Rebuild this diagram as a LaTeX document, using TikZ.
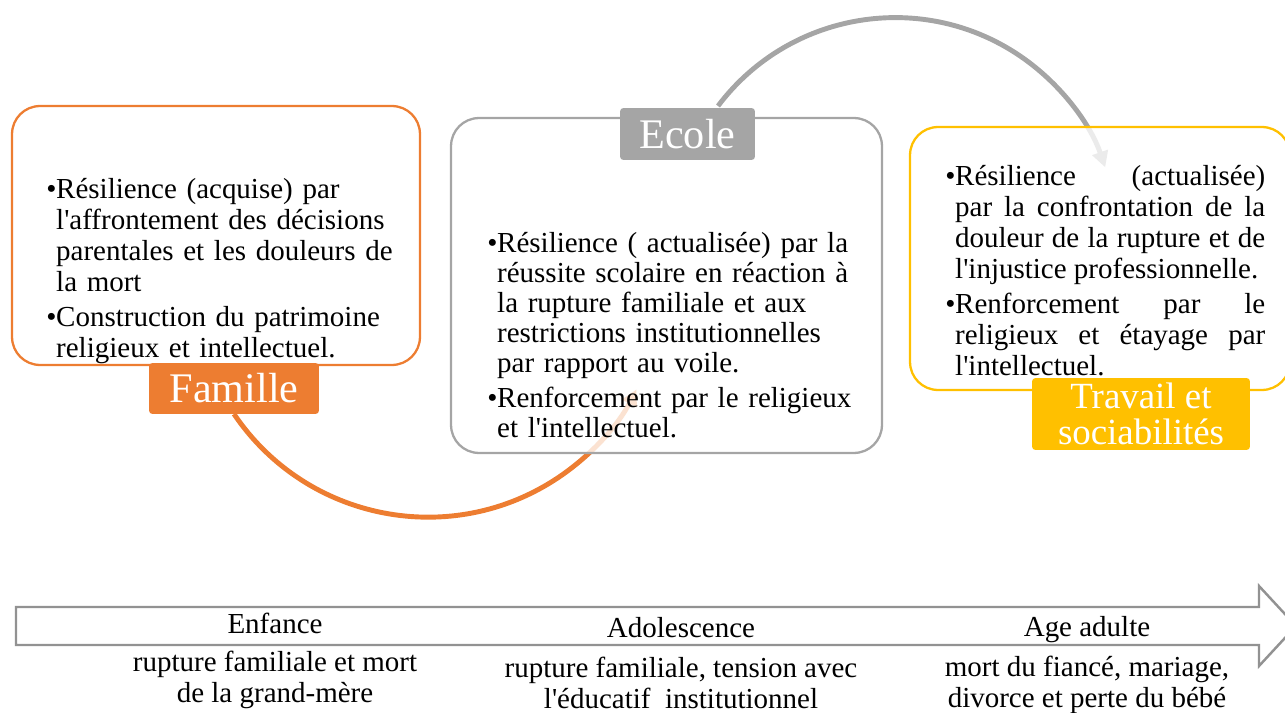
\documentclass[tikz,border=0pt]{standalone}
\usepackage{fontspec}
\setmainfont{Liberation Serif}
\usetikzlibrary{arrows.meta,calc}
\definecolor{cOrange}{HTML}{ED7D31}
\definecolor{cGray}{HTML}{A5A5A5}
\definecolor{cGold}{HTML}{FFC000}
\definecolor{cLine}{HTML}{929292}
\newcommand{\qt}{\textquotesingle}
\newcommand{\nohy}{\hyphenpenalty=10000 \exhyphenpenalty=10000 \relax}
\newcommand{\bitem}[1]{\par\hangindent=5.6pt\hangafter=1\noindent\makebox[5.6pt][l]{•}#1\par}
\begin{document}
\begin{tikzpicture}[x=0.02cm,y=-0.02cm,
  bodytext/.style={inner sep=0pt, anchor=west,
    font=\fontsize{16.5}{17.6}\selectfont},
  cardbox/.style={rounded corners=0.56cm, line width=1.3pt, fill=white, fill opacity=0.78, draw opacity=1, inner sep=0pt},
  tagbox/.style={rounded corners=2pt, text=white, inner sep=0pt, align=center},
  arcline/.style={line width=2.8pt, -{Triangle[length=9pt,width=9pt]}},
  phase/.style={inner sep=0pt, align=center, font=\fontsize{16.5}{17.6}\selectfont}
]
\useasboundingbox (0,0) rectangle (1285,713);

% arcs (drawn below the cards)
\coordinate (g0) at (718,106);
\coordinate (o0) at (234,414);
\draw[arcline, cOrange] (o0) arc[start angle=146, end angle=27, radius=234];
\draw[arcline, cGray] (g0) arc[start angle=-143, end angle=-19, radius=222];

% cards
\node[cardbox, draw=cOrange, minimum width=8.16cm, minimum height=5.18cm] (famcard) at (216,235.5) {};
\node[cardbox, draw=cGray, minimum width=8.62cm, minimum height=6.7cm] (ecocard) at (666.5,285.5) {};
\node[cardbox, draw=cGold, minimum width=7.6cm, minimum height=5.26cm] (tracard) at (1100,258.5) {};

% texts in cards
\node[bodytext, text width=7.3cm, align=left] (famtext) at (46,266) {\nohy
\bitem{Résilience (acquise) par\newline l\qt affrontement des décisions\newline parentales et les douleurs de\newline la mort}
\vspace{2.5pt}
\bitem{Construction du patrimoine\newline religieux et intellectuel.}};

\node[bodytext, text width=7.6cm, align=left, font=\fontsize{16.5}{17.1}\selectfont] (ecotext) at (487,330) {\nohy
\bitem{Résilience ( actualisée) par la\newline réussite scolaire en réaction à\newline la rupture familiale et aux\newline restrictions institutionnelles\newline par rapport au voile.}
\vspace{2.5pt}
\bitem{Renforcement par le religieux\newline et l\qt intellectuel.}};

\node[bodytext, text width=6.4cm, align=justify] (tratext) at (945,265) {\nohy
\bitem{Résilience (actualisée)\linebreak par la confrontation de la\linebreak douleur de la rupture et de\linebreak l\qt injustice professionnelle.}
\vspace{2.5pt}
\bitem{Renforcement par le\linebreak religieux et étayage par\linebreak l\qt intellectuel.}};

% tags
\node[tagbox, fill=cOrange, minimum width=3.4cm, minimum height=1.02cm,
  font=\fontsize{24}{24}\selectfont] (famtag) at (234,388.5) {Famille};
\node[tagbox, fill=cGray, minimum width=2.7cm, minimum height=1.04cm,
  font=\fontsize{24}{24}\selectfont] (ecotag) at (687.5,134) {Ecole};
\node[tagbox, fill=cGold, minimum width=4.36cm, minimum height=1.44cm,
  font=\fontsize{21}{20.5}\selectfont] (tratag) at (1141,414) {Travail et\\ sociabilités};

% timeline arrow
\draw[cLine, line width=1.4pt, fill=white]
  (16,607) -- (1259,607) -- (1259,586) -- (1296,626) -- (1259,666) -- (1259,645) -- (16,645) -- cycle;

\node[phase] (enf) at (275,623) {Enfance};
\node[phase] (ado) at (681,628) {Adolescence};
\node[phase] (adu) at (1087,630) {Age adulte};

\node[phase] (enfd) at (275,680) {rupture familiale et mort\\ de la grand-mère};
\node[phase] (adod) at (681,682.5) {rupture familiale, tension avec\\ l\qt éducatif~ institutionnel};
\node[phase] (adud) at (1087,684.5) {mort du fiancé, mariage,\\ divorce et perte du bébé};
\end{tikzpicture}
\end{document}
